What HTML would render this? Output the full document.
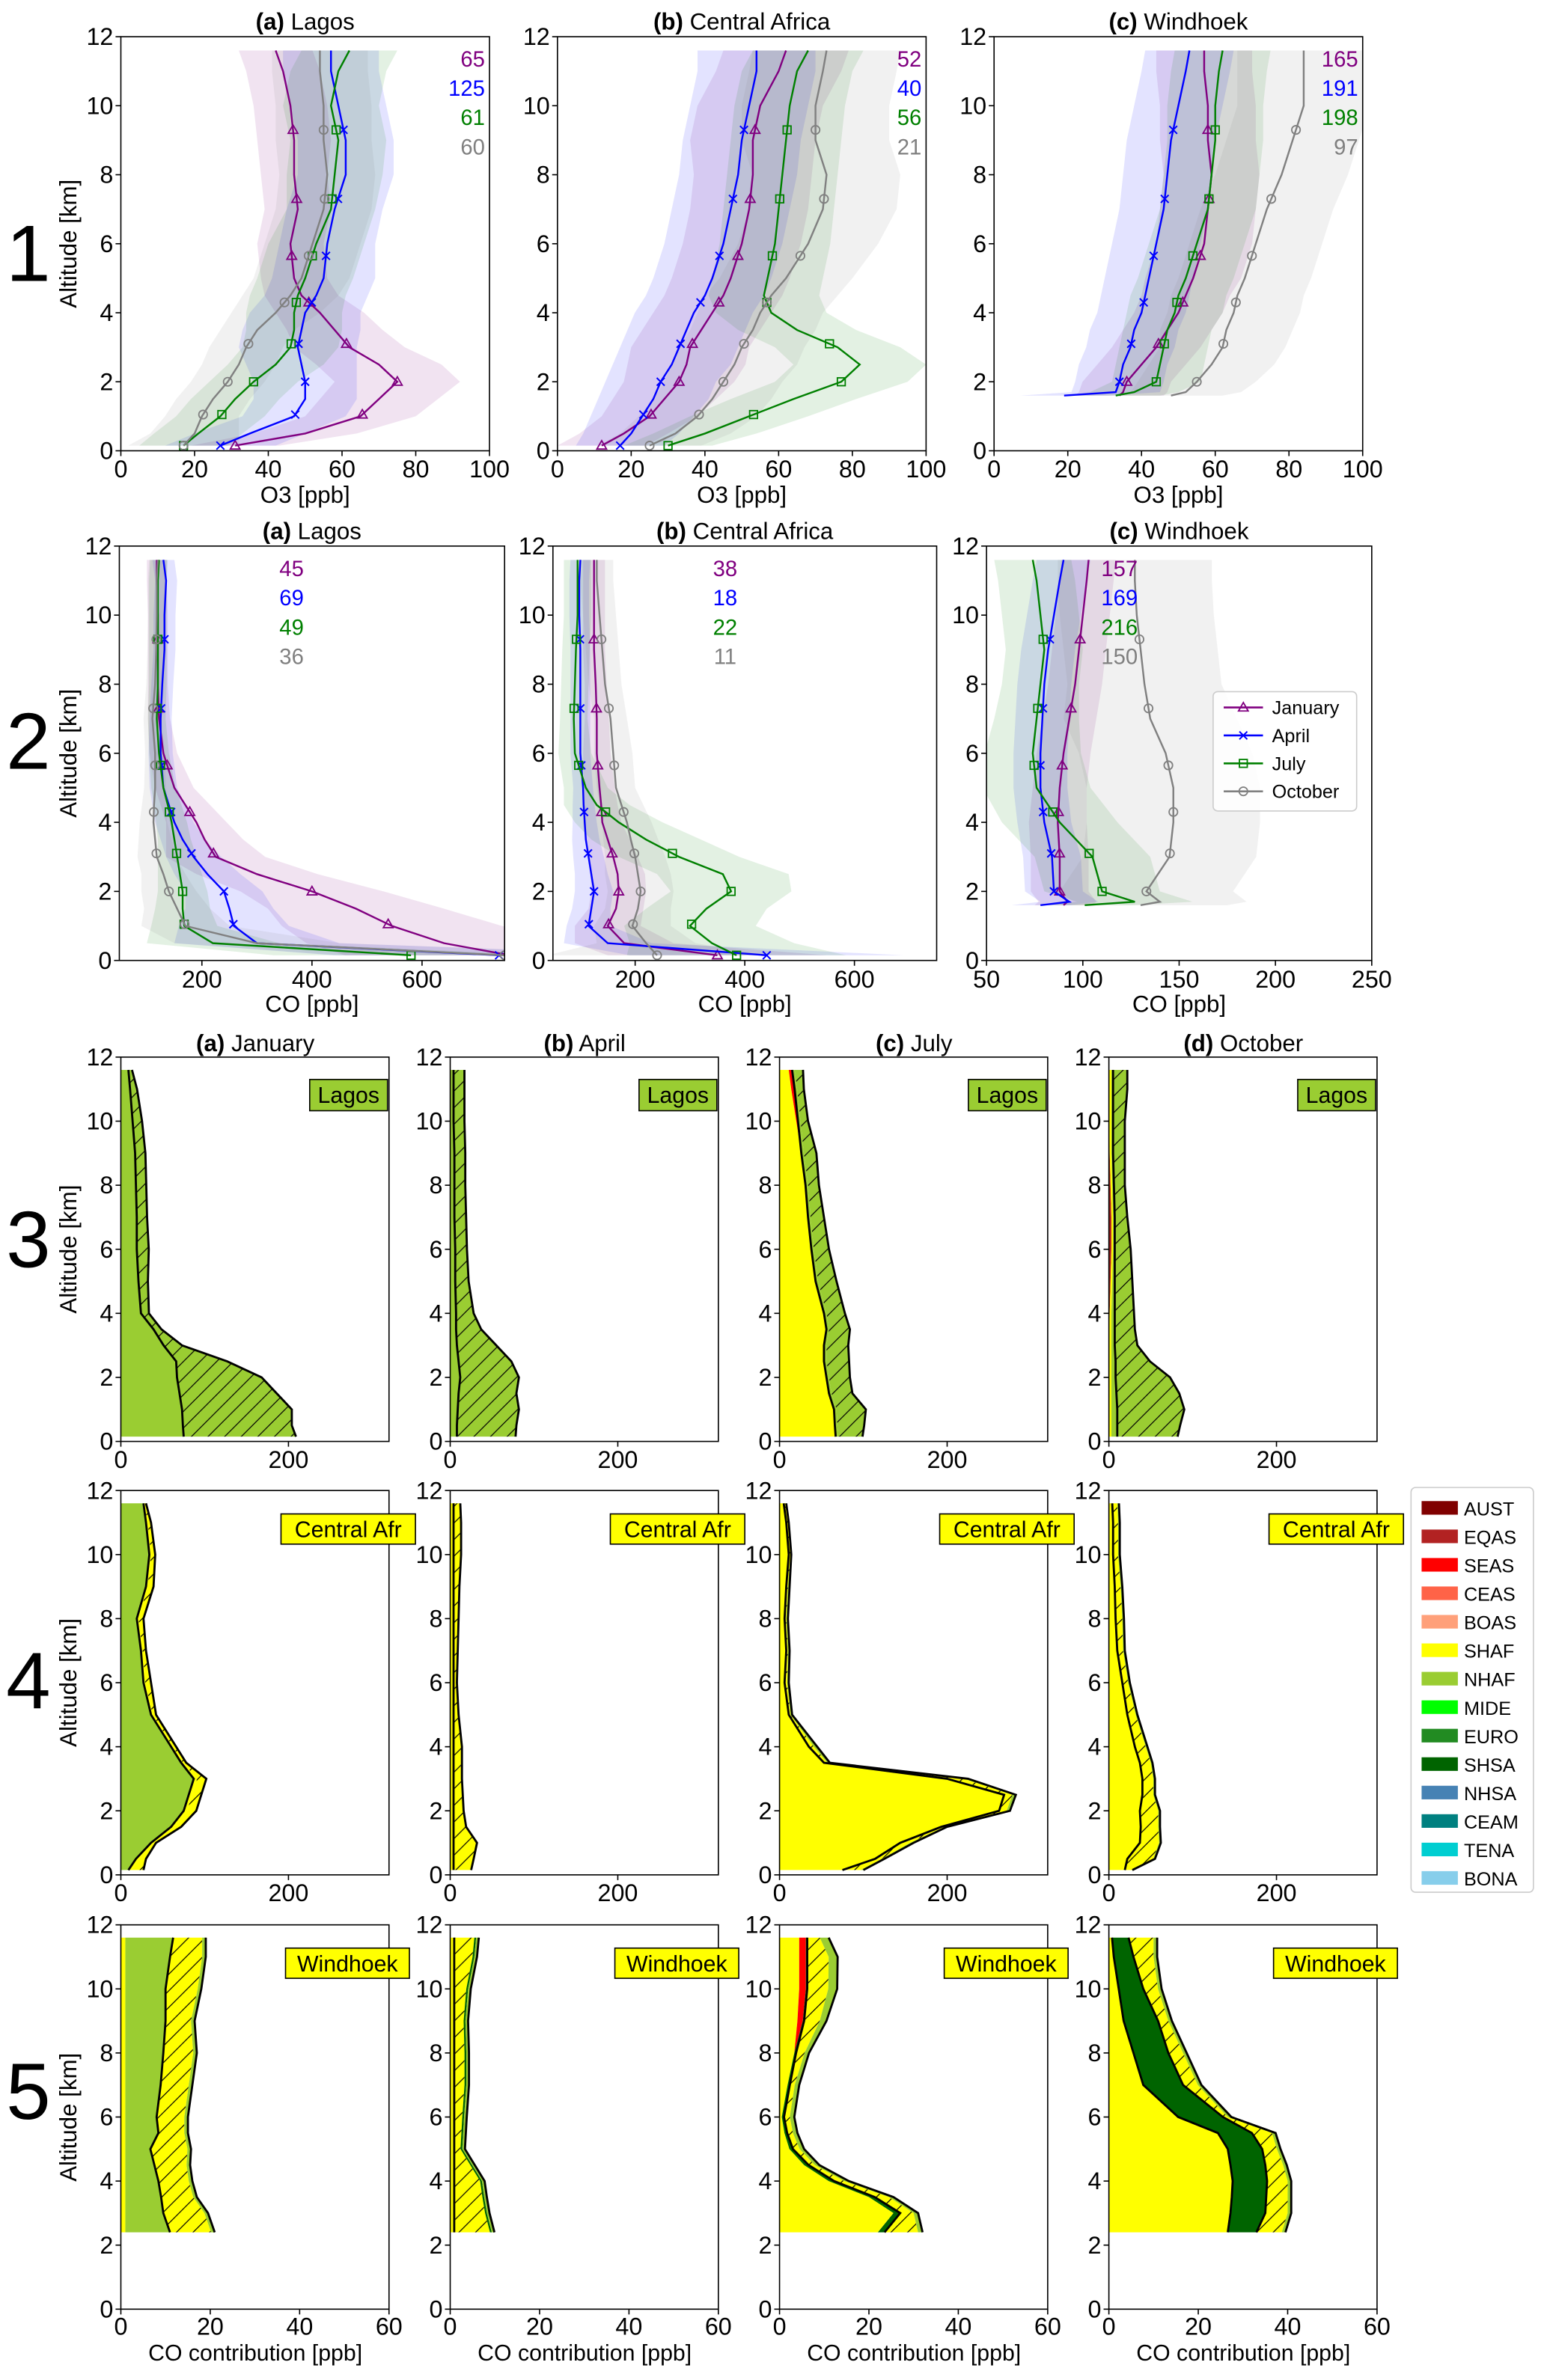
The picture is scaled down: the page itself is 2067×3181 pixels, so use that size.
<!DOCTYPE html>
<html><head><meta charset="utf-8"><title>O3 and CO profiles</title>
<style>html,body{margin:0;padding:0;background:#fff}svg{display:block}</style></head>
<body>
<svg id="fig" xmlns="http://www.w3.org/2000/svg" width="2067" height="3181" viewBox="0 0 1024 1576" preserveAspectRatio="none" font-family="'Liberation Sans', 'DejaVu Sans', sans-serif">
<defs>
<pattern id="hatch-nhaf" patternUnits="userSpaceOnUse" width="11" height="11"><rect width="11" height="11" fill="#9acd32"/><path d="M0,11 L11,0 M-2,2 L2,-2 M9,13 L13,9" stroke="#000" stroke-width="0.6"/></pattern>
<pattern id="hatch-shaf" patternUnits="userSpaceOnUse" width="11" height="11"><rect width="11" height="11" fill="#ffff00"/><path d="M0,11 L11,0 M-2,2 L2,-2 M9,13 L13,9" stroke="#000" stroke-width="0.6"/></pattern>
</defs>
</svg>
<script>
// ---------- Row 1 & 2 data ----------
const levL = [0.15,0.5,1,1.5,2,2.5,3,3.5,4,4.5,5,6,7,8,9,10,11,11.6];
const levW1 = [1.6,1.7,2,2.5,3,3.5,4,4.5,5,6,7,8,9,10,11,11.6];
const levW2 = [1.6,1.7,2,3,4,5,6,7,8,9,10,11,11.6];
const markerAlts = [0.15,1.05,2,3.1,4.3,5.65,7.3,9.3];
const months = ['January','April','July','October'];
const monthColors = ['#800080','#0000ff','#008000','#808080'];

const o3LagJan = [31,50,65,70,75,70,62,58,54,49,47,46,48,47,47,46,44,42];
const o3LagApr = [27,35,47,50,50,49,48,49,50,53,55,56,58,61,61,59,57,57];
const o3LagJul = [17,21,27,31,36,42,46,47,47,48,50,53,57,58,59,57,59,62];
const o3LagOct = [17,20,22,25,29,32,34,37,42,46,49,52,55,56,55,55,54,54];
const sdO3LagJan = [12,14,15,16,17,17,15,13,12,10,9,9,9,9,10,10,10,10];
const sdO3LagApr = [15,15,14,14,14,15,16,16,15,14,14,13,13,13,13,13,13,13];
const sdO3LagJul = [12,12,12,12,12,13,13,13,13,13,13,13,12,13,13,13,13,13];
const sdO3LagOct = [15,12,10,10,10,10,10,10,12,13,13,13,13,13,13,13,13,13];

const o3CafJan = [12,18,25,29,33,35,36,39,42,45,47,50,52,53,53,55,60,62];
const o3CafApr = [17,20,23,26,28,31,33,35,37,40,42,45,47,49,50,52,54,54];
const o3CafJul = [30,40,52,64,77,82,76,65,58,56,57,59,60,61,62,63,65,68];
const o3CafOct = [25,32,38,42,45,48,50,53,55,58,62,68,72,73,70,70,72,73];
const sdO3CafJan = [12,12,13,14,15,16,16,16,16,16,16,16,16,16,17,17,17,17];
const sdO3CafApr = [12,13,14,15,15,16,16,16,16,16,16,16,16,16,16,16,16,16];
const sdO3CafJul = [12,14,16,17,18,18,17,16,15,15,15,15,15,15,15,15,15,15];
const sdO3CafOct = [14,15,16,16,16,17,17,17,17,18,18,19,20,20,20,20,20,20];

const o3WinJan = [34,35,36,40,44,47,50,52,54,57,58,59,58,58,57,57];
const o3WinApr = [19,33,34,35,37,38,40,41,42,44,46,47,48,50,52,53];
const o3WinJul = [33,38,44,45,46,47,49,50,52,55,58,59,60,60,61,62];
const o3WinOct = [48,52,55,59,62,63,65,66,68,71,74,78,81,84,84,84];
const sdO3WinJan = [12,12,12,12,12,12,12,12,13,13,13,13,13,13,13,13];
const sdO3WinApr = [12,12,12,12,12,12,12,12,12,12,12,12,12,12,12,12];
const sdO3WinJul = [12,12,12,12,12,12,13,13,13,13,13,13,13,13,13,13];
const sdO3WinOct = [14,15,16,17,17,18,18,18,18,18,18,18,18,18,18,18];

const coLagJan = [760,640,545,480,400,300,225,205,190,170,150,130,122,120,120,120,118,118];
const coLagApr = [740,300,258,250,240,210,185,165,150,140,130,125,125,128,132,132,135,130];
const coLagJul = [580,220,168,165,165,160,155,150,145,138,130,122,118,120,120,120,120,122];
const coLagOct = [750,300,170,155,140,130,118,115,112,113,115,115,110,115,117,118,118,120];
const sdCoLagJan = [300,250,200,160,130,110,90,70,55,45,35,25,20,18,18,18,18,18];
const sdCoLagApr = [300,150,100,80,70,60,50,40,35,30,25,22,20,20,20,20,20,20];
const sdCoLagJul = [250,120,60,50,45,40,35,30,28,25,22,18,16,16,16,16,16,16];
const sdCoLagOct = [300,150,80,60,50,40,35,30,25,22,20,18,16,16,16,16,16,16];

const coCafJan = [350,180,150,165,170,168,160,150,140,138,135,130,130,128,125,125,125,125];
const coCafApr = [440,150,115,120,125,120,115,110,108,106,105,100,100,100,100,98,98,100];
const coCafJul = [385,340,300,330,375,360,280,220,170,130,110,90,88,90,92,95,95,95];
const coCafOct = [240,220,195,205,210,205,200,192,185,175,165,160,155,145,140,135,130,130];
const sdCoCafJan = [200,90,60,50,50,50,45,40,35,30,28,25,22,20,20,20,20,20];
const sdCoCafApr = [250,80,40,35,35,30,28,25,22,20,18,18,18,18,18,18,18,18];
const sdCoCafJul = [200,150,120,110,110,120,110,100,80,60,40,30,25,25,25,25,25,25];
const sdCoCafOct = [200,90,70,60,60,60,55,50,45,40,35,35,30,30,30,30,30,30];

const coWinJan = [90,92,88,88,87,88,90,93,96,98,100,102,103];
const coWinApr = [78,93,85,84,80,78,78,79,80,82,85,88,90];
const coWinJul = [101,127,110,105,88,76,74,76,78,80,78,76,74];
const coWinOct = [130,140,133,145,147,147,143,135,132,130,128,127,127];
const sdCoWinJan = [15,15,15,15,15,14,14,14,14,14,14,14,14];
const sdCoWinApr = [15,15,15,15,14,14,14,14,14,14,14,14,14];
const sdCoWinJul = [25,30,30,30,30,28,25,22,20,20,20,20,20];
const sdCoWinOct = [45,45,45,45,45,45,45,45,40,40,40,40,40];

const countsO3Lag = [65,125,61,60];
const countsO3Caf = [52,40,56,21];
const countsO3Win = [165,191,198,97];
const countsCoLag = [45,69,49,36];
const countsCoCaf = [38,18,22,11];
const countsCoWin = [157,169,216,150];

const o3Ticks = [0,20,40,60,80,100];
const coTicksAB = [200,400,600];
const coTicksC = [50,100,150,200,250];
const altTicks = [0,2,4,6,8,10,12];

// ---------- Rows 3-5 data (stacked contributions) ----------
const levS = [0.15,0.5,1,1.5,2,2.5,3,3.5,4,5,6,7,8,9,10,11,11.6];
const levS5 = [2.4,3,3.5,4,4.5,5,5.5,6,7,8,9,10,11,11.6];
const regionNames = ['AUST','EQAS','SEAS','CEAS','BOAS','SHAF','NHAF','MIDE','EURO','SHSA','NHSA','CEAM','TENA','BONA'];
const regionColors = ['#800000','#b22222','#ff0000','#ff6347','#ffa07a','#ffff00','#9acd32','#00ff00','#228b22','#006400','#4682b4','#008080','#00ced1','#87ceeb'];
const contribTicksBig = [0,200];
const contribTicksSmall = [0,20,40,60];

const lagJanNhaf = [75,74,73,70,67,66,51,39,24,21,19,19,18,17,14,11,9];
const lagJanNhafFire = [133,129,130,115,100,60,21,9,9,11,14,12,12,12,11,8,4];
const lagJanMide = [1,1,1,1,1,1,1,0.5,0.5,0.3,0.3,0.3,0.3,0.3,0.3,0.3,0.3];
const lagAprNhaf = [8,8,9,10,12,10,8,7,7,6,6,5,5,5,4,4,4];
const lagAprNhafFire = [70,71,73,69,70,63,47,30,21,16,14,14,13,13,13,13,13];
const lagJulShaf = [67,66,65,59,56,53,53,56,53,43,38,34,31,26,20,14,11];
const lagJulSeas = [0,0,0,0,0,0,0,0,0,0,0,0,0,0,2,4,4];
const lagJulNhaf = [3,3,3,3,3,3,3,3,3,3,3,3,3,3,3,3,3];
const lagJulNhafFire = [29,32,35,25,25,27,26,25,22,22,18,16,13,15,9,8,10];
const lagOctEqas = [0,0,0,0,0,0,0,0,1,2,3,3,2,1,0,0,0];
const lagOctShaf = [3,3,3,3,3,3,3,3,2,2,2,2,2,2,3,3,3];
const lagOctNhaf = [7,7,7,6,5,5,4,4,4,3,2,2,2,2,2,2,2];
const lagOctNhafFire = [72,75,80,75,65,41,27,24,23,21,19,15,13,14,14,17,17];

const cafJanNhaf = [9,18,36,60,75,81,87,72,60,36,27,24,19,30,34,30,27];
const cafJanShaf = [4,3,2,3,4,4,4,2,2,2,2,2,2,2,2,2,1];
const cafJanShafFire = [14,9,4,9,11,11,11,4,4,4,7,4,6,7,5,4,2];
const cafAprShaf = [4,4,4,4,4,4,4,4,4,4,4,4,4,4,4,4,4];
const cafAprShafFire = [20,23,27,14,11,10,9,9,9,5,3,4,5,6,8,8,7];
const cafAprNhaf = [1,1,1,1,1,1,1,1,1,1,1,1,1,1,1,1,1];
const cafJulShaf = [75,114,144,193,262,268,200,53,35,11,6,8,6,8,11,8,5];
const cafJulShafFire = [22,8,12,4,9,10,20,4,6,2,3,2,2,2,2,2,2];
const cafJulNhaf = [3,3,4,3,4,4,5,3,4,2,2,2,2,2,1,1,1];
const cafOctShaf = [19,22,37,38,37,40,40,37,31,22,16,10,8,7,5,5,4];
const cafOctShafFire = [8,31,23,21,22,13,13,13,13,10,7,7,8,7,6,6,6];
const cafOctNhaf = [1,2,2,2,2,2,2,2,2,2,2,2,2,2,2,2,2];

const winJanShaf = [1,1,1,1,1,1,1,1,1,1,1,1,1,1];
const winJanNhaf = [10,8.5,8,7.4,6.5,5.6,7.4,7,7.9,8.5,9,9,10,10.7];
const winJanShafFire = [9.2,9.2,7.2,6.8,7.2,8.3,5.8,6.2,6.3,6.7,5.7,7.2,7.2,6.5];
const winJanNhafThin = [0.8,0.8,0.8,0.8,0.8,0.8,0.8,0.8,0.8,0.8,0.8,0.8,0.8,0.8];
const winAprShaf = [0.9,0.9,0.9,0.9,0.9,0.9,0.9,0.9,0.9,0.9,0.9,0.9,0.9,0.9];
const winAprShafFire = [8,6.9,6.3,5.8,3.6,1.4,1.6,1.8,2.3,2.3,2.1,2.7,4.1,4.5];
const winAprShsa = [0.4,0.4,0.4,0.4,0.4,0.4,0.4,0.4,0.4,0.4,0.4,0.4,0.4,0.4];
const winAprNhaf = [0.6,0.6,0.6,0.6,0.6,0.6,0.6,0.6,0.6,0.6,0.6,0.6,0.6,0.6];
const winJulShaf = [22,25.5,20,11,5.5,2.2,1.1,0.5,1.8,3.3,4,4.4,4.4,4.4];
const winJulSeas = [0,0,0,0,0,0,0,0,0,0,1.2,1.5,1.5,1.5];
const winJulShsa = [1.5,1.5,1.3,1.2,1,0.8,0.6,0.5,0.5,0.4,0.3,0.3,0.3,0.3];
const winJulShafFire = [7.5,3,3.2,2.3,1.4,1.5,1.3,1.3,1.1,1.9,3.5,4.7,4.8,2.8];
const winJulNhaf = [1,1,1,1,1,1,1,1,1,1,1.5,2,2,2];
const winOctShaf = [26.6,27.2,27.5,27.7,27.2,26.6,24.4,15.5,7.7,5.5,3.3,2.2,1.1,0.7];
const winOctShsa = [6.4,7.8,7.7,7.7,7.8,7.7,7.6,10,8.9,7.8,7.7,5.5,4.4,3.7];
const winOctShafFire = [5.7,5,4.8,4.6,4,3.3,4.5,1.1,3.3,3.3,2.3,3.3,4.5,5.6];
const winOctNhaf = [0.8,0.8,0.8,0.8,0.8,0.8,0.8,0.8,0.8,0.8,0.8,0.8,0.8,0.8];

// ---------- drawing ----------
const NS = 'http://www.w3.org/2000/svg';
const svg = document.getElementById('fig');
function mk(tag, attrs, parent) {
  const e = document.createElementNS(NS, tag);
  for (const k in attrs) e.setAttribute(k, attrs[k]);
  (parent || svg).appendChild(e);
  return e;
}
function txt(s, attrs, parent) { const t = mk('text', attrs, parent); t.textContent = s; return t; }
function interp(lev, vals, a) {
  for (let i = 0; i < lev.length - 1; i++) {
    if (a >= lev[i] && a <= lev[i + 1]) { const f = (a - lev[i]) / (lev[i + 1] - lev[i]); return vals[i] + f * (vals[i + 1] - vals[i]); }
  }
  return null;
}
let clipN = 0;
function axes(px, py, pw, ph, xmin, xmax, xticks, tickBase, name) {
  const sx = v => px + (v - xmin) / (xmax - xmin) * pw;
  const sy = a => py + ph - a / 12 * ph;
  const g = mk('g', {});
  
  
  const cid = 'clip' + (clipN++);
  const cp = mk('clipPath', { id: cid }, g);
  mk('rect', { x: px, y: py, width: pw, height: ph }, cp);
  const data = mk('g', { 'clip-path': 'url(#' + cid + ')' }, g);
  
  
  const frame = mk('rect', { x: px, y: py, width: pw, height: ph, fill: 'none', stroke: '#000', 'stroke-width': 0.8 }, g);
  
  
  altTicks.forEach(a => {
    const tk = mk('line', { x1: px - 3.5, x2: px, y1: sy(a), y2: sy(a), stroke: '#000', 'stroke-width': 0.8 }, g);
    
    
    const tl = txt(String(a), { x: px - 5, y: sy(a) + 5.5, 'font-size': 16, 'text-anchor': 'end' }, g);
    
    
  });
  xticks.forEach(v => {
    const tk = mk('line', { x1: sx(v), x2: sx(v), y1: py + ph, y2: py + ph + 3.5, stroke: '#000', 'stroke-width': 0.8 }, g);
    
    
    const tl = txt(String(v), { x: sx(v), y: tickBase, 'font-size': 16, 'text-anchor': 'middle' }, g);
    
    
  });
  return { sx, sy, g, data };
}
function title(x, y, letter, rest) {
  const t = mk('text', { x: x, y: y, 'font-size': 15.5, 'text-anchor': 'middle' });
  
  
  const b = mk('tspan', { 'font-weight': 'bold' }, t); b.textContent = letter;
  const r = mk('tspan', {}, t); r.textContent = ' ' + rest;
}
function marker(m, x, y, col, parent) {
  let e;
  if (m === 0) e = mk('path', { d: `M${x},${y - 3.3}L${x + 3.2},${y + 2.3}L${x - 3.2},${y + 2.3}Z`, fill: 'none', stroke: col, 'stroke-width': 0.9 }, parent);
  else if (m === 1) e = mk('path', { d: `M${x - 2.6},${y - 2.6}L${x + 2.6},${y + 2.6}M${x - 2.6},${y + 2.6}L${x + 2.6},${y - 2.6}`, fill: 'none', stroke: col, 'stroke-width': 1 }, parent);
  else if (m === 2) e = mk('rect', { x: x - 2.6, y: y - 2.6, width: 5.2, height: 5.2, fill: 'none', stroke: col, 'stroke-width': 0.9 }, parent);
  else e = mk('circle', { cx: x, cy: y, r: 2.8, fill: 'none', stroke: col, 'stroke-width': 0.9 }, parent);
  
  
}
function profilePanel(ax, lev, vals, sds, counts, cx, cy, anchor) {
  vals.forEach((v, k) => {
    const sd = sds[k];
    const up = lev.map((a, i) => ax.sx(v[i] - sd[i]).toFixed(2) + ',' + ax.sy(a).toFixed(2));
    const dn = lev.map((a, i) => ax.sx(v[i] + sd[i]).toFixed(2) + ',' + ax.sy(a).toFixed(2)).reverse();
    const band = mk('polygon', { points: up.concat(dn).join(' '), fill: monthColors[k], 'fill-opacity': 0.11, stroke: 'none' }, ax.data);
    
    
  });
  vals.forEach((v, k) => {
    const pts = lev.map((a, i) => ax.sx(v[i]).toFixed(2) + ',' + ax.sy(a).toFixed(2)).join(' ');
    const ln = mk('polyline', { points: pts, fill: 'none', stroke: monthColors[k], 'stroke-width': 1.2 }, ax.data);
    
    
    markerAlts.forEach(a => { const xv = interp(lev, v, a); if (xv !== null) marker(k, ax.sx(xv), ax.sy(a), monthColors[k], ax.data); });
  });
  counts.forEach((c, k) => {
    const t = txt(String(c), { x: cx, y: cy + k * 19.4, 'font-size': 14.5, fill: monthColors[k], 'text-anchor': anchor }, ax.g);
    
    
  });
}

// Row 1 (O3)
const r1 = [
  { x: 80, title: ['(a)', 'Lagos'], lev: levL, v: [o3LagJan, o3LagApr, o3LagJul, o3LagOct], sd: [sdO3LagJan, sdO3LagApr, sdO3LagJul, sdO3LagOct], n: countsO3Lag },
  { x: 369, title: ['(b)', 'Central Africa'], lev: levL, v: [o3CafJan, o3CafApr, o3CafJul, o3CafOct], sd: [sdO3CafJan, sdO3CafApr, sdO3CafJul, sdO3CafOct], n: countsO3Caf },
  { x: 658, title: ['(c)', 'Windhoek'], lev: levW1, v: [o3WinJan, o3WinApr, o3WinJul, o3WinOct], sd: [sdO3WinJan, sdO3WinApr, sdO3WinJul, sdO3WinOct], n: countsO3Win }
];
r1.forEach(p => {
  const ax = axes(p.x, 24.3, 244, 274.2, 0, 100, o3Ticks, 316, 'o3-panel-' + p.title[1].toLowerCase().replace(' ', '-'));
  title(p.x + 122, 19.5, p.title[0], p.title[1]);
  profilePanel(ax, p.lev, p.v, p.sd, p.n, p.x + 241, 44, 'end');
  const xl = txt('O3 [ppb]', { x: p.x + 122, y: 333, 'font-size': 15.5, 'text-anchor': 'middle' });
  
  
});

// Row 2 (CO)
const r2 = [
  { x: 79, w: 255, xmin: 50, xmax: 750, ticks: coTicksAB, title: ['(a)', 'Lagos'], lev: levL, v: [coLagJan, coLagApr, coLagJul, coLagOct], sd: [sdCoLagJan, sdCoLagApr, sdCoLagJul, sdCoLagOct], n: countsCoLag, cx: 193 },
  { x: 366, w: 254, xmin: 50, xmax: 750, ticks: coTicksAB, title: ['(b)', 'Central Africa'], lev: levL, v: [coCafJan, coCafApr, coCafJul, coCafOct], sd: [sdCoCafJan, sdCoCafApr, sdCoCafJul, sdCoCafOct], n: countsCoCaf, cx: 480 },
  { x: 653, w: 255, xmin: 50, xmax: 250, ticks: coTicksC, title: ['(c)', 'Windhoek'], lev: levW2, v: [coWinJan, coWinApr, coWinJul, coWinOct], sd: [sdCoWinJan, sdCoWinApr, sdCoWinJul, sdCoWinOct], n: countsCoWin, cx: 741 }
];
r2.forEach(p => {
  const ax = axes(p.x, 361.6, p.w, 274.4, p.xmin, p.xmax, p.ticks, 654, 'co-panel-' + p.title[1].toLowerCase().replace(' ', '-'));
  title(p.x + p.w / 2, 357, p.title[0], p.title[1]);
  profilePanel(ax, p.lev, p.v, p.sd, p.n, p.cx, 381.5, 'middle');
  const xl = txt('CO [ppb]', { x: p.x + p.w / 2, y: 670, 'font-size': 15.5, 'text-anchor': 'middle' });
  
  
});
// month legend
const lg = mk('g', {});


const lgBox = mk('rect', { x: 803, y: 458, width: 95, height: 79, rx: 3, fill: '#fff', 'fill-opacity': 0.85, stroke: '#ccc', 'stroke-width': 0.8 }, lg);


months.forEach((m, k) => {
  const y = 468.5 + k * 18.5;
  const ln = mk('line', { x1: 810, x2: 836, y1: y, y2: y, stroke: monthColors[k], 'stroke-width': 1.3 }, lg);
  
  
  marker(k, 823, y, monthColors[k], lg);
  const t = txt(m, { x: 842, y: y + 4.5, 'font-size': 12.5 }, lg);
  
  
});

// Rows 3-5 stacked
function L(reg, vals, hatch, edge) { return { reg, vals, hatch, edge }; }
const rowStacks = [
  { top: 700, lev: levS, xmax: 320, ticks: contribTicksBig, tickBase: 972, label: 'Lagos', boxColor: '#9acd32', box: [205, 714.8, 51.5, 20.7], panels: [
    [L(6, lagJanNhaf, false, true), L(6, lagJanNhafFire, true, false), L(7, lagJanMide, false, true)],
    [L(6, lagAprNhaf, false, true), L(6, lagAprNhafFire, true, true)],
    [L(5, lagJulShaf, false, false), L(2, lagJulSeas, false, true), L(6, lagJulNhaf, false, false), L(6, lagJulNhafFire, true, true)],
    [L(1, lagOctEqas, false, false), L(5, lagOctShaf, false, false), L(6, lagOctNhaf, false, true), L(6, lagOctNhafFire, true, true)]
  ] },
  { top: 987, lev: levS, xmax: 320, ticks: contribTicksBig, tickBase: 1259, label: 'Central Afr', boxColor: '#ffff00', box: [186, 1002.5, 89, 20], panels: [
    [L(6, cafJanNhaf, false, true), L(5, cafJanShaf, false, false), L(5, cafJanShafFire, true, true)],
    [L(5, cafAprShaf, false, true), L(5, cafAprShafFire, true, false), L(6, cafAprNhaf, false, true)],
    [L(5, cafJulShaf, false, true), L(5, cafJulShafFire, true, false), L(6, cafJulNhaf, false, true)],
    [L(5, cafOctShaf, false, true), L(5, cafOctShafFire, true, false), L(6, cafOctNhaf, false, true)]
  ] },
  { top: 1274.6, lev: levS5, xmax: 60, ticks: contribTicksSmall, tickBase: 1546, label: 'Windhoek', boxColor: '#ffff00', box: [189, 1290, 82, 20], panels: [
    [L(5, winJanShaf, false, false), L(6, winJanNhaf, false, true), L(5, winJanShafFire, true, false), L(6, winJanNhafThin, false, true)],
    [L(5, winAprShaf, false, true), L(5, winAprShafFire, true, false), L(9, winAprShsa, false, false), L(6, winAprNhaf, false, true)],
    [L(5, winJulShaf, false, false), L(2, winJulSeas, false, false), L(9, winJulShsa, false, true), L(5, winJulShafFire, true, false), L(6, winJulNhaf, false, true)],
    [L(5, winOctShaf, false, true), L(9, winOctShsa, false, true), L(5, winOctShafFire, true, false), L(6, winOctNhaf, false, true)]
  ] }
];
const colTitles = [['(a)', 'January'], ['(b)', 'April'], ['(c)', 'July'], ['(d)', 'October']];
const colX = [80, 298, 516, 734];
rowStacks.forEach((row, ri) => {
  row.panels.forEach((layers, ci) => {
    const px = colX[ci];
    const ax = axes(px, row.top, 177.5, 254.5, 0, row.xmax, row.ticks, row.tickBase, 'contribution-panel-' + row.label.toLowerCase().replace(' ', '-') + '-' + colTitles[ci][1].toLowerCase());
    if (ri === 0) title(px + 89, 696, colTitles[ci][0], colTitles[ci][1]);
    let prev = row.lev.map(() => 0);
    const edges = [];
    layers.forEach(ly => {
      const cum = prev.map((p, i) => p + ly.vals[i]);
      const a = row.lev.map((al, i) => ax.sx(prev[i]).toFixed(2) + ',' + ax.sy(al).toFixed(2));
      const b = row.lev.map((al, i) => ax.sx(cum[i]).toFixed(2) + ',' + ax.sy(al).toFixed(2)).reverse();
      const fill = ly.hatch ? (ly.reg === 6 ? 'url(#hatch-nhaf)' : 'url(#hatch-shaf)') : regionColors[ly.reg];
      const poly = mk('polygon', { points: a.concat(b).join(' '), fill: fill, stroke: 'none' }, ax.data);
      
      
      if (ly.edge) edges.push(cum);
      prev = cum;
    });
    edges.forEach(cum => {
      const pts = row.lev.map((al, i) => ax.sx(cum[i]).toFixed(2) + ',' + ax.sy(al).toFixed(2)).join(' ');
      const ln = mk('polyline', { points: pts, fill: 'none', stroke: '#000', 'stroke-width': 1.4 }, ax.data);
      
      
    });
    const bx = row.box[0] - 80 + px;
    const rb = mk('rect', { x: bx, y: row.box[1], width: row.box[2], height: row.box[3], fill: row.boxColor, stroke: '#000', 'stroke-width': 0.8 });
    
    
    const rt = txt(row.label, { x: bx + row.box[2] / 2, y: row.box[1] + 15.5, 'font-size': 15, 'text-anchor': 'middle' });
    
    
    if (ri === 2) {
      const xl = txt('CO contribution [ppb]', { x: px + 89, y: 1563, 'font-size': 15, 'text-anchor': 'middle' });
      
      
    }
  });
});
// region legend
const rg = mk('g', {});


const rgBox = mk('rect', { x: 934, y: 985, width: 81, height: 268, rx: 3, fill: '#fff', stroke: '#ccc', 'stroke-width': 0.8 }, rg);


regionNames.forEach((n, k) => {
  const y = 994 + k * 18.85;
  const sw = mk('rect', { x: 941, y: y, width: 24, height: 9, fill: regionColors[k] }, rg);
  
  
  const t = txt(n, { x: 969, y: y + 9.5, 'font-size': 12.5 }, rg);
  
  
});

// y-axis titles and row numbers
const rowCenters = [161.4, 498.8, 827.2, 1114.2, 1402];
const rowNumBase = [186, 509, 839, 1131, 1403];
rowCenters.forEach((c, i) => {
  const yt = txt('Altitude [km]', { x: 0, y: 0, 'font-size': 15.5, 'text-anchor': 'middle', transform: `translate(50.5,${c}) rotate(-90)` });
  
  
  const rn = txt(String(i + 1), { x: 4, y: rowNumBase[i], 'font-size': 53 });
  
  
});
</script>
</body></html>
